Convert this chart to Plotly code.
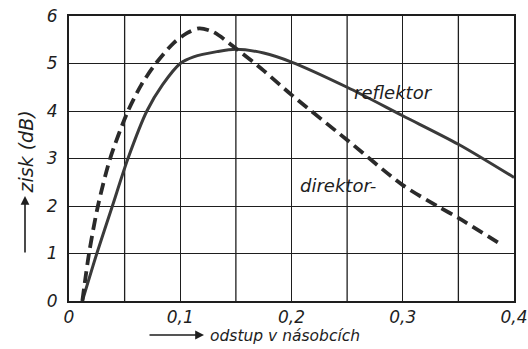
import plotly.graph_objects as go

# Gain vs. element spacing (in wavelengths) for a two-element Yagi
refl_x = [0.012, 0.025, 0.039, 0.053, 0.070, 0.084, 0.100, 0.112, 0.133, 0.150, 0.175, 0.200, 0.250, 0.300, 0.350, 0.400]
refl_y = [0.0, 1.0, 2.0, 3.0, 4.0, 4.55, 5.0, 5.14, 5.25, 5.3, 5.22, 5.03, 4.5, 3.9, 3.3, 2.6]

dir_x = [0.012, 0.018, 0.026, 0.037, 0.053, 0.065, 0.078, 0.094, 0.106, 0.117, 0.130, 0.152, 0.175, 0.200, 0.250, 0.300, 0.331, 0.350, 0.389]
dir_y = [0.0, 1.0, 2.0, 3.0, 4.0, 4.55, 5.0, 5.43, 5.64, 5.74, 5.66, 5.28, 4.85, 4.34, 3.39, 2.44, 2.0, 1.75, 1.18]

x_ticks = [0, 0.1, 0.2, 0.3, 0.4]
x_tick_text = ["0", "0,1", "0,2", "0,3", "0,4"]
y_ticks = [0, 1, 2, 3, 4, 5, 6]
y_tick_text = ["0", "1", "2", "3", "4", "5", "6"]

INK = "#1e1e1e"
FONT = "DejaVu Sans"

W, H = 528, 349
ML, MR, MT, MB = 69, 14, 16, 48
PW, PH = W - ML - MR, H - MT - MB


def px_to_paper(px, py):
    """Convert figure pixel position to paper coordinates of the plot area."""
    return (px - ML) / PW, (H - MB - py) / PH


fig = go.Figure()
fig.add_trace(go.Scatter(
    x=refl_x, y=refl_y, mode="lines",
    line=dict(color="#3a3a3a", width=3, shape="spline", smoothing=0.8),
    hoverinfo="skip", showlegend=False,
))
fig.add_trace(go.Scatter(
    x=dir_x, y=dir_y, mode="lines",
    line=dict(color="#2a2a2a", width=3.8, shape="spline", smoothing=0.8, dash="12px,6px"),
    hoverinfo="skip", showlegend=False,
))

fig.update_layout(
    width=W, height=H,
    margin=dict(l=ML, r=MR, t=MT, b=MB, autoexpand=False),
    paper_bgcolor="white", plot_bgcolor="white",
    font=dict(family=FONT, color=INK),
    xaxis=dict(
        range=[0, 0.4], tickvals=x_ticks, ticktext=x_tick_text,
        showgrid=True, gridcolor=INK, gridwidth=1.3,
        showline=True, linecolor=INK, linewidth=2, mirror=True,
        ticks="", zeroline=False, automargin=False,
        tickfont=dict(size=17, family=FONT, color=INK, style="italic"),
    ),
    yaxis=dict(
        range=[0, 6], tickvals=y_ticks, ticktext=y_tick_text,
        showgrid=True, gridcolor=INK, gridwidth=1.3,
        showline=True, linecolor=INK, linewidth=2, mirror=True,
        ticks="", zeroline=False, ticklabelstandoff=6, automargin=False,
        tickfont=dict(size=17, family=FONT, color=INK, style="italic"),
    ),
)

# extra vertical grid lines at the half-steps
for gx in [0.05, 0.15, 0.25, 0.35]:
    fig.add_shape(type="line", xref="x", yref="y", x0=gx, x1=gx, y0=0, y1=6,
                  line=dict(color=INK, width=1.3), layer="below")

# curve labels
fig.add_annotation(x=0.254, y=4.4, xref="x", yref="y", text="reflektor", showarrow=False,
                   xanchor="left", font=dict(size=18, family=FONT, color=INK, style="italic"))
fig.add_annotation(x=0.206, y=2.43, xref="x", yref="y", text="direktor-", showarrow=False,
                   xanchor="left", font=dict(size=18, family=FONT, color=INK, style="italic"))

# axis titles with arrows
tx, ty = px_to_paper(208, 336)
fig.add_annotation(x=tx, y=ty, xref="paper", yref="paper",
                   text="odstup v násobcích", showarrow=False, xanchor="left", yanchor="middle",
                   font=dict(size=15.5, family=FONT, color=INK, style="italic"))
ax_, ay_ = px_to_paper(204, 335)
fig.add_annotation(x=ax_, y=ay_, xref="paper", yref="paper",
                   ax=-56, ay=0, text="", showarrow=True, arrowhead=2, arrowsize=1.1,
                   arrowwidth=1.6, arrowcolor=INK)
vx, vy = px_to_paper(25, 196)
fig.add_annotation(x=vx, y=vy, xref="paper", yref="paper",
                   text="zisk (dB)", showarrow=False, textangle=-90, xanchor="center", yanchor="bottom",
                   font=dict(size=19, family=FONT, color=INK, style="italic"))
bx, by = px_to_paper(25, 196)
fig.add_annotation(x=bx, y=by, xref="paper", yref="paper",
                   ax=0, ay=58, text="", showarrow=True, arrowhead=2, arrowsize=1.1,
                   arrowwidth=1.6, arrowcolor=INK)

fig.write_html("out.html")
